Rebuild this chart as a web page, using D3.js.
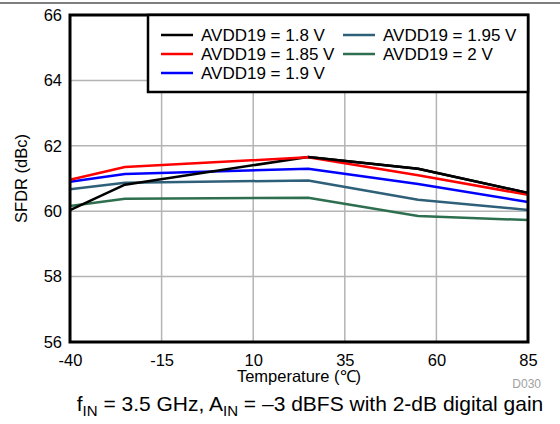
<!DOCTYPE html>
<html>
<head>
<meta charset="utf-8">
<script src="https://cdn.jsdelivr.net/npm/d3@7"></script>
<style>
  body { margin: 0; background: #fff; }
  svg { font-family: "Liberation Sans", Arial, sans-serif; }
</style>
</head>
<body>
<svg id="chart"></svg>
<script>
// temperatures (degC) and SFDR (dBc) per supply
const temps = [-40, -25, 25, 55, 85];
const sfdr18 = [60.03, 60.81, 61.66, 61.30, 60.56];
const sfdr185 = [60.96, 61.35, 61.65, 61.10, 60.50];
const sfdr19 = [60.90, 61.14, 61.30, 60.83, 60.28];
const sfdr195 = [60.67, 60.87, 60.94, 60.35, 60.04];
const sfdr2 = [60.16, 60.38, 60.41, 59.85, 59.73];
const seriesNames = ['AVDD19 = 1.8 V', 'AVDD19 = 1.85 V', 'AVDD19 = 1.9 V', 'AVDD19 = 1.95 V', 'AVDD19 = 2 V'];
const xTicks = [-40, -15, 10, 35, 60, 85];
const yTicks = [56, 58, 60, 62, 64, 66];

const colors = ['#000000', '#ff0000', '#0000ff', '#2f6079', '#2e6f4f'];
const seriesVals = [sfdr18, sfdr185, sfdr19, sfdr195, sfdr2];

const width = 560, height = 424;
const m = { left: 70, right: 32, top: 15, bottom: 82 };

const svg = d3.select('#chart').attr('width', width).attr('height', height);

const x = d3.scaleLinear().domain([-40, 85]).range([m.left, width - m.right]);
const y = d3.scaleLinear().domain([56, 66]).range([height - m.bottom, m.top]);

// top rule
svg.append('line')
  .attr('x1', 0).attr('x2', width).attr('y1', 3).attr('y2', 3)
  .attr('stroke', '#000').attr('stroke-width', 1.2);

// grid
svg.append('g')
  .selectAll('line.vg')
  .data(xTicks)
  .enter()
  .append('line')
  .attr('x1', d => x(d)).attr('x2', d => x(d))
  .attr('y1', y(56)).attr('y2', y(66))
  .attr('stroke', '#b4b4b4').attr('stroke-width', 1.5);

svg.append('g')
  .selectAll('line.hg')
  .data(yTicks)
  .enter()
  .append('line')
  .attr('x1', x(-40)).attr('x2', x(85))
  .attr('y1', d => y(d)).attr('y2', d => y(d))
  .attr('stroke', '#b4b4b4').attr('stroke-width', 1.5);

// axes (labels only), plain hyphen minus like the source
const xAxis = svg.append('g')
  .attr('transform', 'translate(0,' + (height - m.bottom) + ')')
  .call(d3.axisBottom(x).tickValues(xTicks).tickSize(0).tickPadding(12).tickFormat(d => String(d)));
const yAxis = svg.append('g')
  .attr('transform', 'translate(' + m.left + ',0)')
  .call(d3.axisLeft(y).tickValues(yTicks).tickSize(0).tickPadding(8).tickFormat(d => String(d)));
[xAxis, yAxis].forEach(a => {
  a.select('.domain').remove();
  a.selectAll('text').attr('font-size', 16.5).attr('fill', '#000')
    .attr('font-family', '"Liberation Sans", Arial, sans-serif');
});

// series
const line = d3.line().x((d, i) => x(temps[i])).y(d => y(d));
const order = [4, 3, 2, 0, 1];
order.forEach(k => {
  svg.append('path')
    .datum(seriesVals[k])
    .attr('d', line)
    .attr('fill', 'none')
    .attr('stroke', colors[k])
    .attr('stroke-width', 2.5)
    .attr('stroke-linejoin', 'round');
});
// black on top right of the peak
svg.append('clipPath').attr('id', 'rightHalf')
  .append('rect').attr('x', x(25)).attr('y', 0).attr('width', width).attr('height', height);
svg.append('path')
  .datum(sfdr18)
  .attr('d', line)
  .attr('fill', 'none')
  .attr('stroke', colors[0])
  .attr('stroke-width', 2.5)
  .attr('clip-path', 'url(#rightHalf)');

// frame
svg.append('rect')
  .attr('x', m.left).attr('y', m.top)
  .attr('width', x(85) - x(-40)).attr('height', y(56) - y(66))
  .attr('fill', 'none').attr('stroke', '#000').attr('stroke-width', 3);

// legend
const lg = svg.append('g');
lg.append('rect')
  .attr('x', 148).attr('y', m.top)
  .attr('width', x(85) - 148).attr('height', 77)
  .attr('fill', '#fff').attr('stroke', '#000').attr('stroke-width', 2.5);
const legPos = [[161, 35], [161, 54], [161, 73], [343, 35], [343, 54]];
seriesNames.forEach((name, i) => {
  const [lx, ly] = legPos[i];
  lg.append('line')
    .attr('x1', lx).attr('x2', lx + 32).attr('y1', ly).attr('y2', ly)
    .attr('stroke', colors[i]).attr('stroke-width', 2.5);
  lg.append('text')
    .attr('x', lx + 40).attr('y', ly + 6)
    .attr('font-size', 17)
    .text(name);
});

// axis titles
svg.append('text')
  .attr('transform', 'translate(27,' + (y(61)) + ') rotate(-90)')
  .attr('text-anchor', 'middle')
  .attr('font-size', 16.5)
  .text('SFDR (dBc)');

svg.append('text')
  .attr('x', (x(-40) + x(85)) / 2)
  .attr('y', 382)
  .attr('text-anchor', 'middle')
  .attr('font-size', 16.5)
  .text('Temperature (\u2103)');

svg.append('text')
  .attr('x', 541).attr('y', 388)
  .attr('text-anchor', 'end')
  .attr('font-size', 12)
  .attr('fill', '#a0a0a0')
  .text('D030');

// footnote
const note = svg.append('text')
  .attr('x', 310).attr('y', 411)
  .attr('text-anchor', 'middle')
  .attr('font-size', 21);
note.append('tspan').text('f');
note.append('tspan').attr('font-size', 15).attr('dy', 5).text('IN');
note.append('tspan').attr('dy', -5).text(' = 3.5 GHz, A');
note.append('tspan').attr('font-size', 15).attr('dy', 5).text('IN');
note.append('tspan').attr('dy', -5).text(' = \u20133 dBFS with 2-dB digital gain');
</script>
</body>
</html>
